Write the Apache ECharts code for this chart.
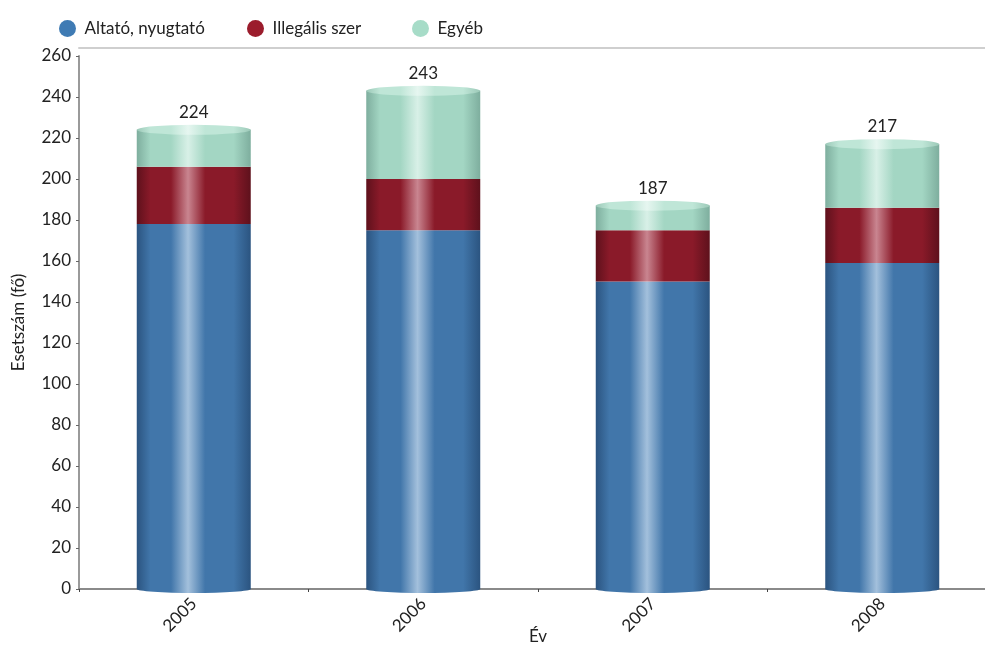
<!DOCTYPE html>
<html>
<head>
<meta charset="utf-8">
<script src="https://cdn.jsdelivr.net/npm/echarts@6/dist/echarts.min.js"></script>
<style>
html,body{margin:0;padding:0;background:#fff;}
#chart{width:985px;height:648px;}
</style>
</head>
<body>
<div id="chart"></div>
<script>
const categories = ['2005', '2006', '2007', '2008'];
const altato = [178, 175, 150, 159];
const illegalis = [28, 25, 25, 27];
const egyeb = [18, 43, 12, 31];
const totals = [224, 243, 187, 217];
const seriesNames = ['Altató, nyugtató', 'Illegális szer', 'Egyéb'];
const legendColors = ['#3f7bb4', '#9b1c2c', '#a7dcc8'];
const yTicks = [0, 20, 40, 60, 80, 100, 120, 140, 160, 180, 200, 220, 240, 260];

const FONT = 'Lato';
const FS = 17;

function cyl(dark, main, light) {
  return new echarts.graphic.LinearGradient(0, 0, 1, 0, [
    {offset: 0, color: dark},
    {offset: 0.12, color: main},
    {offset: 0.3, color: main},
    {offset: 0.45, color: light},
    {offset: 0.6, color: main},
    {offset: 0.85, color: main},
    {offset: 1, color: dark}
  ]);
}

const blueFill = cyl('#2b5480', '#4176aa', '#a3c0dc');
const redFill = cyl('#5e111c', '#8a1a29', '#c98590');
const greenFill = cyl('#7eae9e', '#a3d6c3', '#d8f0e7');

const legendLefts = [54, 242, 407];

const chart = echarts.init(document.getElementById('chart'));
chart.setOption({
  animation: false,
  textStyle: {fontFamily: FONT},
  legend: seriesNames.map(function (n, i) {
    return {
      left: legendLefts[i], top: 15,
      itemWidth: 24, itemHeight: 17,
      icon: 'circle',
      textStyle: {fontFamily: FONT, fontSize: FS, color: '#222'},
      data: [{name: n, itemStyle: {color: legendColors[i]}}]
    };
  }),
  grid: {left: 79, width: 918, top: 56, bottom: 59, containLabel: false, outerBoundsMode: 'none'},
  xAxis: [{
    type: 'category',
    data: categories,
    name: 'Év',
    nameLocation: 'middle',
    nameGap: 39,
    nameMoveOverlap: false,
    nameTextStyle: {fontFamily: FONT, fontSize: FS, color: '#222'},
    axisLine: {show: true, lineStyle: {color: '#8a8a8a', width: 2}},
    axisTick: {show: true, length: 3, lineStyle: {color: '#444'}},
    axisLabel: {rotate: 45, margin: 12, fontFamily: FONT, fontSize: FS, color: '#222'}
  }, {
    type: 'category',
    position: 'top',
    offset: 8,
    data: categories,
    axisLine: {show: true, lineStyle: {color: '#cfcfcf', width: 2}},
    axisTick: {show: false},
    axisLabel: {show: false}
  }],
  yAxis: {
    type: 'value',
    min: 0, max: 260, interval: 20,
    name: 'Esetszám (fő)',
    nameLocation: 'middle',
    nameGap: 52,
    nameMoveOverlap: false,
    nameTextStyle: {fontFamily: FONT, fontSize: FS, color: '#222'},
    axisLine: {show: true, lineStyle: {color: '#9a9a9a', width: 2}},
    axisTick: {show: true, length: 3, lineStyle: {color: '#666'}},
    splitLine: {show: false},
    axisLabel: {
      margin: 8, fontFamily: FONT, fontSize: FS, color: '#222',
      formatter: function (v) { return yTicks.indexOf(v) >= 0 ? String(v) : ''; }
    }
  },
  series: [
    {
      name: seriesNames[0], type: 'bar', stack: 's', barWidth: 114,
      data: altato, itemStyle: {color: blueFill}
    },
    {
      name: seriesNames[1], type: 'bar', stack: 's', barWidth: 114,
      data: illegalis, itemStyle: {color: redFill}
    },
    {
      name: seriesNames[2], type: 'bar', stack: 's', barWidth: 114,
      data: egyeb, itemStyle: {color: greenFill},
      label: {
        show: true, position: 'top', distance: 9,
        fontFamily: FONT, fontSize: FS, color: '#222',
        formatter: function (p) { return String(totals[p.dataIndex]); }
      }
    },
    {
      type: 'pictorialBar', symbol: 'circle', symbolSize: [114, 10],
      symbolPosition: 'end', symbolOffset: [0, '-50%'], z: 3,
      silent: true,
      data: totals,
      itemStyle: {color: cyl('#9cc9b8', '#bfe6d7', '#e6f6f0')}
    },
    {
      type: 'pictorialBar', symbol: 'circle', symbolSize: [114, 8],
      symbolPosition: 'start', symbolOffset: [0, '50%'], z: 1,
      silent: true,
      data: altato,
      itemStyle: {color: blueFill}
    }
  ]
});
</script>
</body>
</html>
